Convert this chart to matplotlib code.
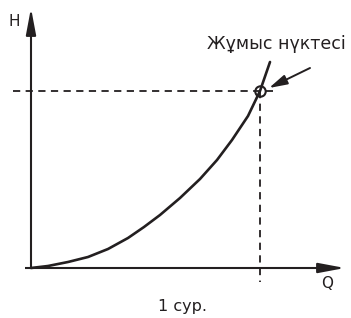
import numpy as np
import matplotlib.pyplot as plt

# curve points (Q, H) in pixel-like units
curve_q = [0, 17, 37, 57, 77, 97, 113, 129, 149, 169, 186, 201, 217, 229, 239]
curve_h = [0, 2, 6, 11, 19, 30, 41, 53, 70, 89, 108, 128, 152, 177, 206]

work_q = 229
work_h = 177
label_text = "Жұмыс нүктесі"
caption = "1 сур."

INK = "#231f20"

fig = plt.figure(figsize=(3.51, 3.18), dpi=100)
ax = fig.add_axes([0, 0, 1, 1])
ax.set_xlim(-31, 320)
ax.set_ylim(-50, 268)
ax.axis("off")

# axes with arrows
ax.plot([-6, 292], [0, 0], color=INK, lw=1.5, solid_capstyle="butt")
ax.plot([0, 0], [0, 237], color=INK, lw=1.5, solid_capstyle="butt")
ax.annotate("", xy=(314, 0), xytext=(290, 0),
            arrowprops=dict(arrowstyle="-|>,head_length=1.6,head_width=0.3",
                            color=INK, lw=1.5, shrinkA=0, shrinkB=0))
ax.annotate("", xy=(0, 260), xytext=(0, 235),
            arrowprops=dict(arrowstyle="-|>,head_length=1.6,head_width=0.3",
                            color=INK, lw=1.5, shrinkA=0, shrinkB=0))

# dashed guides to the working point
ax.plot([-18, work_q + 16], [work_h, work_h], color=INK, lw=1.3, ls=(0, (4, 3)))
ax.plot([work_q, work_q], [work_h, -14], color=INK, lw=1.3, ls=(0, (4, 3)))

# characteristic curve
ax.plot(curve_q, curve_h, color=INK, lw=1.9, solid_capstyle="round", solid_joinstyle="round")
ax.plot([work_q], [work_h], marker="o", ms=7.5, mfc="none", mec=INK, mew=1.5)

# label arrow
ax.annotate("", xy=(work_q + 9, work_h + 3), xytext=(279, 200),
            arrowprops=dict(arrowstyle="-|>,head_length=1.1,head_width=0.3",
                            color=INK, lw=1.4, shrinkA=0, shrinkB=0))

ax.text(245, 224, label_text, fontsize=12.5, color=INK, ha="center", va="center")
ax.text(-17, 247, "H", fontsize=11, color=INK, ha="center", va="center")
ax.text(296, -15, "Q", fontsize=11, color=INK, ha="center", va="center")
ax.text(152, -39, caption, fontsize=11.5, color=INK, ha="center", va="center")

fig.savefig("out.png", dpi=100)
